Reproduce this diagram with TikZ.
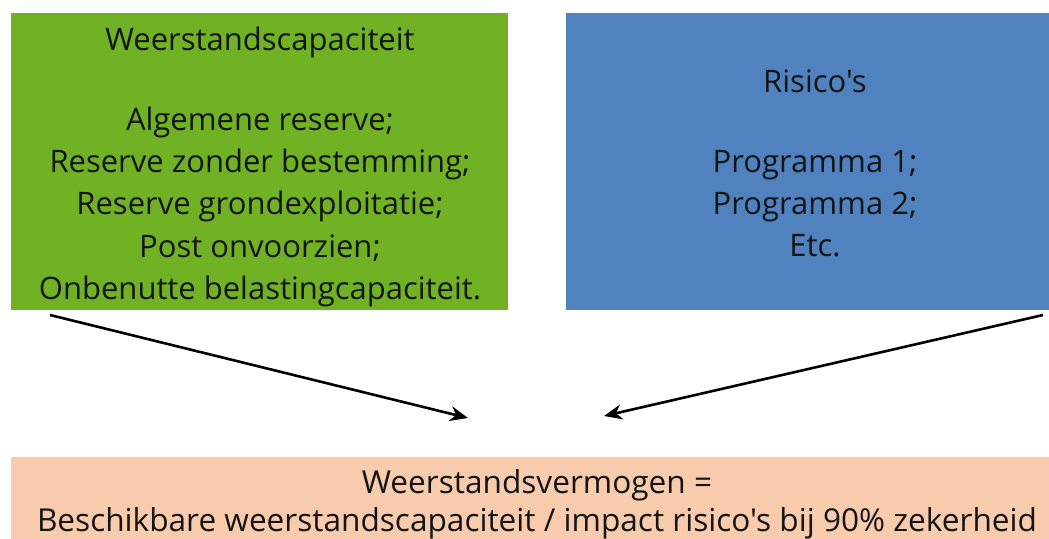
\documentclass[tikz,border=0pt]{standalone}
\usepackage{fontspec}
\setmainfont{Open Sans}[Ligatures=TeXOff]
\usetikzlibrary{arrows.meta}
\definecolor{cgreen}{RGB}{113,178,36}
\definecolor{cblue}{RGB}{79,130,190}
\definecolor{csalmon}{RGB}{248,203,173}
\definecolor{ctext}{RGB}{20,20,20}
\begin{document}
\begin{tikzpicture}[x=1pt,y=-1pt,
  box/.style={draw=none,inner sep=0pt,outer sep=0pt,anchor=north west},
  line/.style={anchor=base,inner sep=0pt,text=ctext,font=\fontsize{31}{42}\selectfont},
  bline/.style={anchor=base,inner sep=0pt,text=ctext,font=\fontsize{31.6}{42}\selectfont},
  arr/.style={line width=2.6pt,draw=black,-{Stealth[length=18pt,width=15pt]}}]
\clip (0,0) rectangle (1049,538);
\fill[white] (0,0) rectangle (1049,538);
% boxes
\node[box,fill=cgreen,minimum width=497pt,minimum height=297pt] (green) at (11,13) {};
\node[box,fill=cblue,minimum width=500pt,minimum height=297pt] (blue) at (566,13) {};
\node[box,fill=csalmon,minimum width=1060pt,minimum height=120pt] (salmon) at (11,457) {};
% green text
\node[line] (g0) at (260,50) {Weerstandscapaciteit};
\node[line] (g1) at (260,130) {Algemene reserve;};
\node[line] (g2) at (260,172) {Reserve zonder bestemming;};
\node[line] (g3) at (260,214) {Reserve grondexploitatie;};
\node[line] (g4) at (260,257) {Post onvoorzien;};
\node[line] (g5) at (260,299) {Onbenutte belastingcapaciteit.};
% blue text
\node[line] (b0) at (815,92) {Risico's};
\node[line] (b1) at (815,172) {Programma 1;};
\node[line] (b2) at (815,214) {Programma 2;};
\node[line] (b3) at (815,256) {Etc.};
% bottom text
\node[bline] (s0) at (537,493) {Weerstandsvermogen =};
\node[bline] (s1) at (537,531) {Beschikbare weerstandscapaciteit / impact risico's bij 90\% zekerheid};
% arrows
\coordinate (a1) at (50,315);
\coordinate (t1) at (468,418);
\coordinate (a2) at (1043,315);
\coordinate (t2) at (604,416);
\draw[arr] (a1) -- (t1);
\draw[arr] (a2) -- (t2);
\end{tikzpicture}
\end{document}
